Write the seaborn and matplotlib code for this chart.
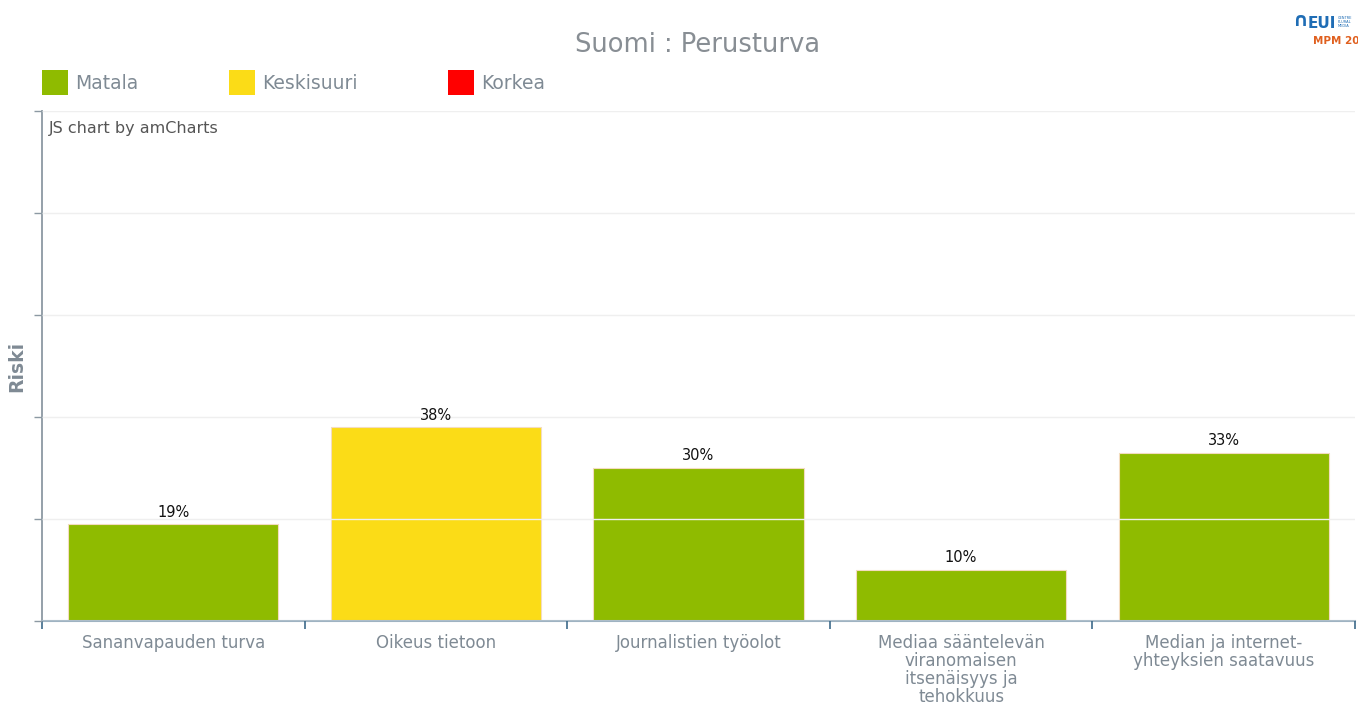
import matplotlib
matplotlib.use("Agg")
import matplotlib.pyplot as plt
import matplotlib.patches as mpatches
import seaborn as sns
import pandas as pd

# data
categories = [
    "Sananvapauden turva",
    "Oikeus tietoon",
    "Journalistien työolot",
    "Mediaa sääntelevän\nviranomaisen\nitsenäisyys ja\ntehokkuus",
    "Median ja internet-\nyhteyksien saatavuus",
]
risk_values = [19, 38, 30, 10, 33]
risk_levels = ["Matala", "Keskisuuri", "Matala", "Matala", "Matala"]
legend_levels = ["Matala", "Keskisuuri", "Korkea"]

level_colors = {"Matala": "#8fbb00", "Keskisuuri": "#fbdc17", "Korkea": "#ff0000"}
text_gray = "#7f8a94"

sns.set_theme(style="white")
plt.rcParams["font.family"] = ["DejaVu Sans"]

df = pd.DataFrame({"Kategoria": categories, "Riski": risk_values, "Taso": risk_levels})

fig = plt.figure(figsize=(13.58, 7.04), dpi=100)
ax = fig.add_axes([42 / 1358, 83 / 704, 1313 / 1358, 510 / 704])

sns.barplot(data=df, x="Kategoria", y="Riski", hue="Taso", palette=level_colors,
            dodge=False, width=0.8, saturation=1, legend=False, ax=ax,
            edgecolor="#f3dcc0", linewidth=0.8)

ax.set_ylim(0, 100)
ax.set_xlim(-0.5, len(categories) - 0.5)
ax.set_yticks(range(0, 101, 20))
ax.set_yticklabels([])
ax.yaxis.grid(True, color="#efefef", linewidth=1)
ax.set_axisbelow(False)

# labels at centres, tick marks at category boundaries
ax.set_xticks(range(len(categories)))
ax.set_xticklabels(categories, color=text_gray, fontsize=12, linespacing=1.02, va="top")
ax.set_xticks([i - 0.5 for i in range(len(categories) + 1)], minor=True)
ax.tick_params(axis="x", which="major", length=0, pad=9)
ax.tick_params(axis="x", which="minor", bottom=True, length=6, width=1.2, color="#3d6a8a",
               direction="out")
ax.tick_params(axis="y", length=6, width=1, color="#8c99a3", direction="out", left=True)
ax.set_xlabel("")
ax.set_ylabel("Riski", color=text_gray, fontsize=13.5, fontweight="bold")
ax.yaxis.label.set_va("center")
ax.yaxis.set_label_coords(-25 / 1313, 0.5)

for side in ["top", "right"]:
    ax.spines[side].set_visible(False)
ax.spines["left"].set_color("#8c99a3")
ax.spines["left"].set_linewidth(1.3)
ax.spines["bottom"].set_color("#9fb3c2")
ax.spines["bottom"].set_linewidth(1.5)

for i, v in enumerate(risk_values):
    ax.text(i, v + 0.9, f"{v}%", ha="center", va="bottom", fontsize=10.5, color="#111111")

ax.text(0.005, 0.98, "JS chart by amCharts", transform=ax.transAxes, ha="left", va="top",
        fontsize=11.5, color="#555555")

fig.text(0.514, 1 - 45 / 704, "Suomi : Perusturva", ha="center", va="center",
         fontsize=18.5, color="#888e94")

handles = [mpatches.Patch(facecolor=level_colors[l], edgecolor="none", label=l) for l in legend_levels]
leg = fig.legend(handles=handles, loc="upper left", bbox_to_anchor=(34 / 1358, 1 - 62 / 704),
                 ncol=3, frameon=False, fontsize=13.5, handlelength=1.4, handleheight=1.75,
                 handletextpad=0.4, columnspacing=4.8, borderaxespad=0)
for t in leg.get_texts():
    t.set_color(text_gray)

# logo in the corner
fig.text(1292 / 1358, 1 - 21 / 704, "∩", ha="left", va="center", fontsize=14,
         fontweight="bold", color="#1f6db5")
fig.text(1308 / 1358, 1 - 23 / 704, "EUI", ha="left", va="center", fontsize=11,
         fontweight="bold", color="#1f6db5")
fig.text(1338 / 1358, 1 - 22 / 704, "CENTRE\nPLURAL\nMEDIA", ha="left", va="center",
         fontsize=2.6, color="#1f6db5", linespacing=1.1)
fig.text(1313 / 1358, 1 - 41 / 704, "MPM 20", ha="left", va="center", fontsize=7.5,
         fontweight="bold", color="#e0601f")

fig.savefig("out.png", dpi=100)
